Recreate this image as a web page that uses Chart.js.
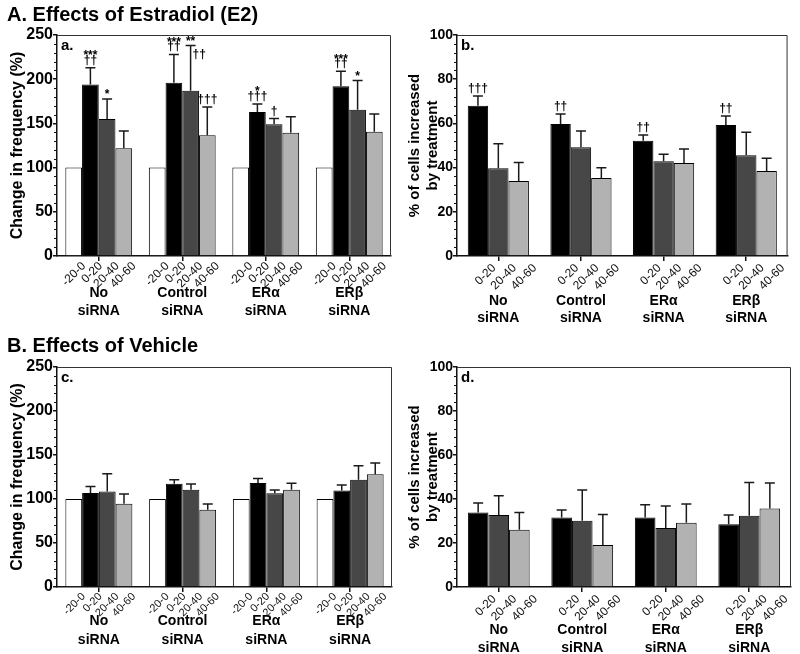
<!DOCTYPE html>
<html>
<head>
<meta charset="utf-8">
<script src="https://cdn.jsdelivr.net/npm/chart.js@4"></script>
<style>
  body { margin: 0; background: #fff; font-family: 'Liberation Sans', Arial, sans-serif; }
  #page { position: relative; width: 800px; height: 654px; overflow: hidden; }
  .panel { position: absolute; }
  .title { position: absolute; left: 7px; font-size: 20px; font-weight: bold; color: #000; white-space: nowrap; }
</style>
</head>
<body>
<div id="page">
  <canvas id="chartA" class="panel" width="400" height="330" style="left:0;top:0"></canvas>
  <canvas id="chartB" class="panel" width="400" height="330" style="left:400px;top:0"></canvas>
  <canvas id="chartC" class="panel" width="400" height="324" style="left:0;top:330px"></canvas>
  <canvas id="chartD" class="panel" width="400" height="324" style="left:400px;top:330px"></canvas>
  <div class="title" style="top:3px">A. Effects of Estradiol (E2)</div>
  <div class="title" style="top:334px">B. Effects of Vehicle</div>
</div>
<script>
// categories and tick labels
const siRNAGroups = [['No', 'siRNA'], ['Control', 'siRNA'], ['ERα', 'siRNA'], ['ERβ', 'siRNA']];
const freqWindows = ['-20-0', '0-20', '20-40', '40-60'];
const cellWindows = ['0-20', '20-40', '40-60'];
const freqTicks = [0, 50, 100, 150, 200, 250];
const cellTicks = [0, 20, 40, 60, 80, 100];

// a. E2 - change in frequency (%), mean and SEM
const e2FreqBase = [100, 100, 100, 100];
const e2Freq0to20 = [194, 196, 163, 192];
const e2Freq0to20Sem = [19, 32, 9, 17];
const e2Freq20to40 = [155, 187, 149, 165.5];
const e2Freq20to40Sem = [22.5, 51, 6.5, 33];
const e2Freq40to60 = [122, 136.5, 139.5, 140.5];
const e2Freq40to60Sem = [19.5, 32, 18, 20];
const e2FreqSig0to20 = [['***', '††'], ['***', '††'], ['*', '†††'], ['***', '††']];
const e2FreqSig20to40 = [['*'], ['**', '††'], ['†'], ['*']];
const e2FreqSig40to60 = [[], ['†††'], [], []];

// b. E2 - % of cells increased
const e2Cells0to20 = [68, 59.7, 52.1, 59.3];
const e2Cells0to20Sem = [4.4, 4.5, 2.7, 4];
const e2Cells20to40 = [39.7, 49.2, 42.9, 45.6];
const e2Cells20to40Sem = [11.1, 7.4, 3.1, 10.4];
const e2Cells40to60 = [33.9, 35.3, 42.1, 38.5];
const e2Cells40to60Sem = [8.4, 4.6, 6.3, 5.7];
const e2CellsSig0to20 = [['†††'], ['††'], ['††'], ['††']];

// c. vehicle - change in frequency (%)
const vehFreqBase = [100, 100, 100, 100];
const vehFreq0to20 = [106.8, 117.4, 118.2, 109.8];
const vehFreq0to20Sem = [7.5, 4.5, 5.2, 6.1];
const vehFreq20to40 = [108.6, 110.6, 106.4, 121.9];
const vehFreq20to40Sem = [20.2, 6.4, 3.8, 15.9];
const vehFreq40to60 = [94.7, 87.8, 110.6, 128];
const vehFreq40to60Sem = [11, 6.5, 7.2, 12.9];

// d. vehicle - % of cells increased
const vehCells0to20 = [33.9, 31.6, 31.6, 28.5];
const vehCells0to20Sem = [4.3, 3.4, 5.8, 4.2];
const vehCells20to40 = [32.7, 30.1, 26.8, 32.4];
const vehCells20to40Sem = [8.8, 14, 10, 15.1];
const vehCells40to60 = [26, 19.1, 29.2, 35.7];
const vehCells40to60Sem = [7.9, 13.9, 8.5, 11.6];

const FONT = "'Liberation Sans', Arial, sans-serif";
Chart.defaults.font.family = FONT;
Chart.defaults.color = '#000';

const freqColors = ['#ffffff', '#000000', '#474747', '#b2b2b2'];
const cellColors = ['#000000', '#474747', '#b2b2b2'];

// error bars, significance marks, frame, minor ticks, slanted window labels
const panelExtras = {
    id: 'panelExtras',
    afterDatasetsDraw(chart, args, o) {
        const ctx = chart.ctx;
        const area = chart.chartArea;
        const yScale = chart.scales.y;
        ctx.save();
        chart.data.datasets.forEach((ds, di) => {
            if (!ds.sem) return;
            chart.getDatasetMeta(di).data.forEach((bar, i) => {
                const cap = yScale.getPixelForValue(ds.data[i] + ds.sem[i]);
                ctx.strokeStyle = '#1a1a1a';
                ctx.lineWidth = 1.5;
                ctx.beginPath();
                ctx.moveTo(bar.x, bar.y);
                ctx.lineTo(bar.x, cap);
                ctx.moveTo(bar.x - 5, cap);
                ctx.lineTo(bar.x + 5, cap);
                ctx.stroke();

                // stars / daggers above the cap
                let lines = ds.marks ? ds.marks[i].slice() : [];
                if (!lines.length) return;
                ctx.font = 'bold 12px ' + FONT;
                ctx.fillStyle = '#000';
                const topCenter = cap - 8 - 7.5 * (lines.length - 1);
                if (topCenter - 3 < area.top) {
                    // no room: the lowest line goes beside the error bar
                    const side = lines.pop();
                    ctx.textAlign = 'left';
                    ctx.fillText(side, bar.x + 2, cap + 8 + 4);
                }
                ctx.textAlign = 'center';
                lines.reverse().forEach((txt, k) => {
                    const c = cap - 8 - 7.5 * k;
                    ctx.fillText(txt, bar.x, c + (txt.indexOf('*') >= 0 ? 7 : 4));
                });
            });
        });
        ctx.restore();
    },
    afterDraw(chart, args, o) {
        const ctx = chart.ctx;
        const area = chart.chartArea;
        const yScale = chart.scales.y;
        ctx.save();

        // top and right frame lines
        ctx.strokeStyle = '#333';
        ctx.lineWidth = 1;
        ctx.beginPath();
        ctx.moveTo(area.left, area.top + 0.5);
        ctx.lineTo(area.right - 0.5, area.top + 0.5);
        ctx.lineTo(area.right - 0.5, area.bottom);
        ctx.stroke();

        // minor ticks on the y axis
        ctx.strokeStyle = '#111';
        ctx.lineWidth = 1;
        ctx.beginPath();
        for (let v = yScale.min; v <= yScale.max; v += o.minorStep) {
            if (v % o.majorStep === 0) continue;
            const py = Math.round(yScale.getPixelForValue(v)) + 0.5;
            ctx.moveTo(area.left - 3, py);
            ctx.lineTo(area.left, py);
        }
        ctx.stroke();

        // panel letter
        ctx.font = 'bold 15px ' + FONT;
        ctx.fillStyle = '#000';
        ctx.textAlign = 'left';
        ctx.textBaseline = 'top';
        ctx.fillText(o.letter, area.left + 4, area.top + 3);

        // slanted time-window labels under each bar
        ctx.font = o.labelSize + 'px ' + FONT;
        ctx.fillStyle = '#111';
        ctx.textAlign = 'right';
        ctx.textBaseline = 'top';
        chart.data.datasets.forEach((ds, di) => {
            chart.getDatasetMeta(di).data.forEach(bar => {
                ctx.save();
                ctx.translate(bar.x + o.labelDx, area.bottom + o.labelDy);
                ctx.rotate(-Math.PI / 4);
                ctx.fillText(ds.label, 0, 0);
                ctx.restore();
            });
        });
        ctx.restore();
    }
};

function panelChart(canvasId, cfg) {
    const canvas = document.getElementById(canvasId);
    const datasets = cfg.means.map((m, i) => ({
        label: cfg.windows[i],
        data: m,
        sem: cfg.sems[i],
        marks: cfg.marks ? cfg.marks[i] : null,
        backgroundColor: cfg.colors[i],
        borderColor: '#000',
        borderWidth: 1,
        categoryPercentage: cfg.catPct,
        barPercentage: 1
    }));
    return new Chart(canvas, {
        type: 'bar',
        data: { labels: siRNAGroups, datasets: datasets },
        plugins: [panelExtras],
        options: {
            responsive: false,
            animation: false,
            devicePixelRatio: 1,
            layout: { padding: { left: 0, top: cfg.top, right: canvas.width - cfg.right, bottom: 0 } },
            plugins: {
                legend: { display: false },
                tooltip: { enabled: false },
                panelExtras: {
                    letter: cfg.letter,
                    majorStep: cfg.ticks[1] - cfg.ticks[0],
                    minorStep: cfg.minorStep,
                    labelDx: cfg.labelDx,
                    labelDy: cfg.labelDy,
                    labelSize: cfg.labelSize
                }
            },
            scales: {
                x: {
                    ticks: {
                        color: '#000',
                        font: { size: 14, weight: 'bold', lineHeight: cfg.groupLine },
                        padding: cfg.groupPad,
                        maxRotation: 0,
                        autoSkip: false
                    },
                    grid: { drawOnChartArea: false, offset: false, tickLength: 5, color: '#111', lineWidth: 1.5 },
                    border: { display: true, color: '#111', width: 1.5 },
                    afterFit: s => { s.height = canvas.height - cfg.bottom; }
                },
                y: {
                    min: cfg.ticks[0],
                    max: cfg.ticks[cfg.ticks.length - 1],
                    ticks: {
                        stepSize: cfg.ticks[1] - cfg.ticks[0],
                        color: '#000',
                        font: { size: cfg.tickSize, weight: 'bold' },
                        padding: 0
                    },
                    grid: { drawOnChartArea: false, tickLength: 4, color: '#111', lineWidth: 1.5 },
                    border: { display: true, color: '#111', width: 1.5 },
                    title: {
                        display: true,
                        text: cfg.yTitle,
                        color: '#000',
                        font: { size: cfg.yTitleSize, weight: 'bold', lineHeight: 1.2 },
                        padding: { top: cfg.yTitlePad, bottom: 0 }
                    },
                    afterFit: s => { s.width = cfg.left; }
                }
            }
        }
    });
}

panelChart('chartA', {
    windows: freqWindows, colors: freqColors, catPct: 0.8,
    means: [e2FreqBase, e2Freq0to20, e2Freq20to40, e2Freq40to60],
    sems: [null, e2Freq0to20Sem, e2Freq20to40Sem, e2Freq40to60Sem],
    marks: [null, e2FreqSig0to20, e2FreqSig20to40, e2FreqSig40to60],
    ticks: freqTicks, minorStep: 10, letter: 'a.', tickSize: 16,
    yTitle: 'Change in frequency (%)', yTitleSize: 16, yTitlePad: 8,
    left: 57, right: 391, top: 35, bottom: 256,
    groupPad: 23, groupLine: 1.3, labelDx: 6, labelDy: 4, labelSize: 12
});

panelChart('chartB', {
    windows: cellWindows, colors: cellColors, catPct: 0.74,
    means: [e2Cells0to20, e2Cells20to40, e2Cells40to60],
    sems: [e2Cells0to20Sem, e2Cells20to40Sem, e2Cells40to60Sem],
    marks: [e2CellsSig0to20, null, null],
    ticks: cellTicks, minorStep: 4, letter: 'b.', tickSize: 14,
    yTitle: ['% of cells increased', 'by treatment'], yTitleSize: 15, yTitlePad: 6,
    left: 57, right: 394, top: 35, bottom: 256,
    groupPad: 32, groupLine: 1.2, labelDx: 12, labelDy: 6, labelSize: 12
});

panelChart('chartC', {
    windows: freqWindows, colors: freqColors, catPct: 0.8,
    means: [vehFreqBase, vehFreq0to20, vehFreq20to40, vehFreq40to60],
    sems: [null, vehFreq0to20Sem, vehFreq20to40Sem, vehFreq40to60Sem],
    marks: null,
    ticks: freqTicks, minorStep: 10, letter: 'c.', tickSize: 16,
    yTitle: 'Change in frequency (%)', yTitleSize: 16, yTitlePad: 8,
    left: 57, right: 392, top: 37, bottom: 257,
    groupPad: 20, groupLine: 1.35, labelDx: 6, labelDy: 4, labelSize: 11
});

panelChart('chartD', {
    windows: cellWindows, colors: cellColors, catPct: 0.74,
    means: [vehCells0to20, vehCells20to40, vehCells40to60],
    sems: [vehCells0to20Sem, vehCells20to40Sem, vehCells40to60Sem],
    marks: null,
    ticks: cellTicks, minorStep: 4, letter: 'd.', tickSize: 14,
    yTitle: ['% of cells increased', 'by treatment'], yTitleSize: 15, yTitlePad: 6,
    left: 57, right: 394, top: 37, bottom: 257,
    groupPad: 29, groupLine: 1.3, labelDx: 12, labelDy: 6, labelSize: 12
});
</script>
</body>
</html>
